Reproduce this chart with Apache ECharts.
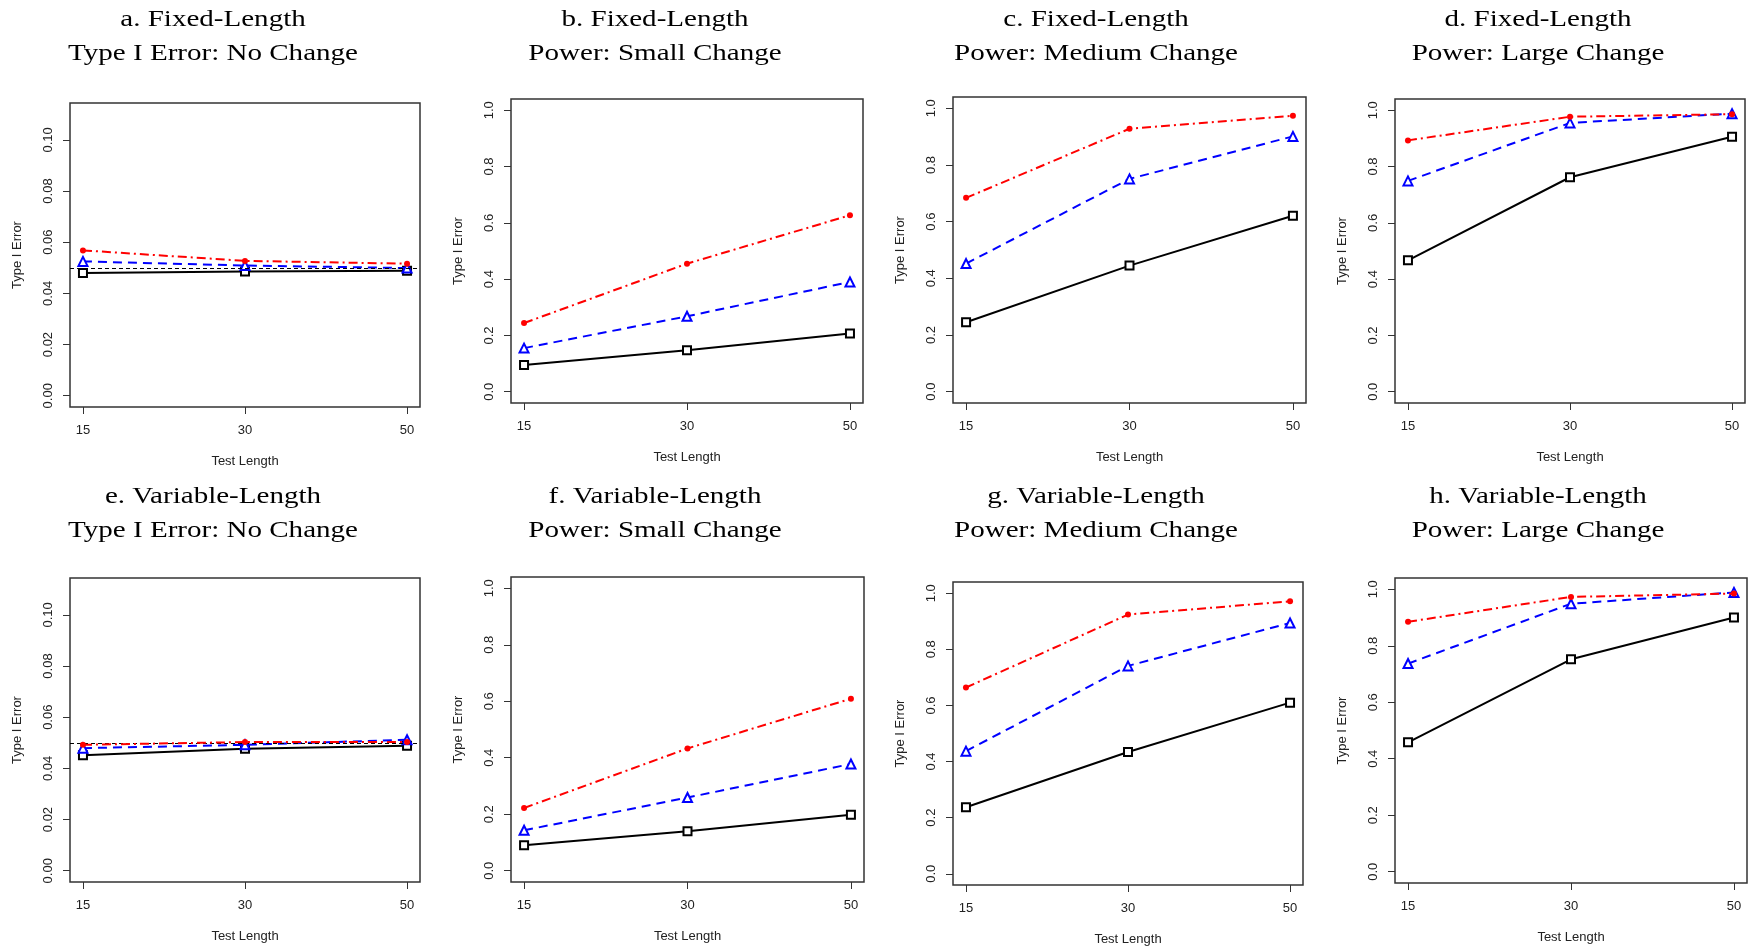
<!DOCTYPE html>
<html>
<head>
<meta charset="utf-8">
<script src="https://cdn.jsdelivr.net/npm/echarts@6/dist/echarts.min.js"></script>
<style>
html,body{margin:0;padding:0;background:#fff;}
#chart{width:1756px;height:949px;}
</style>
</head>
<body>
<div id="chart"></div>
<script>
// ---- categories & tick labels ----
const testLengths = ['15', '30', '50'];
const yTicksTypeI = [0, 0.02, 0.04, 0.06, 0.08, 0.10];
const yTicksPower = [0, 0.2, 0.4, 0.6, 0.8, 1.0];
const nominalAlpha = 0.05;

// ---- panel titles ----
const titleLine1 = ['a. Fixed-Length', 'b. Fixed-Length', 'c. Fixed-Length', 'd. Fixed-Length',
                    'e. Variable-Length', 'f. Variable-Length', 'g. Variable-Length', 'h. Variable-Length'];
const titleLine2 = ['Type I Error: No Change', 'Power: Small Change', 'Power: Medium Change', 'Power: Large Change',
                    'Type I Error: No Change', 'Power: Small Change', 'Power: Medium Change', 'Power: Large Change'];

// ---- series values (black solid squares, blue dashed triangles, red dot-dash dots) ----
const blackA = [0.0480, 0.0486, 0.0488];
const blueA  = [0.0525, 0.0509, 0.0499];
const redA   = [0.0568, 0.0527, 0.0516];

const blackB = [0.095, 0.147, 0.207];
const blueB  = [0.155, 0.268, 0.390];
const redB   = [0.244, 0.455, 0.627];

const blackC = [0.245, 0.445, 0.621];
const blueC  = [0.452, 0.751, 0.901];
const redC   = [0.684, 0.928, 0.974];

const blackD = [0.467, 0.762, 0.906];
const blueD  = [0.749, 0.955, 0.988];
const redD   = [0.893, 0.977, 0.986];

const blackE = [0.0451, 0.0477, 0.0488];
const blueE  = [0.0479, 0.0492, 0.0512];
const redE   = [0.0492, 0.0503, 0.0503];

const blackF = [0.090, 0.140, 0.198];
const blueF  = [0.143, 0.259, 0.378];
const redF   = [0.222, 0.433, 0.609];

const blackG = [0.237, 0.434, 0.610];
const blueG  = [0.437, 0.741, 0.894];
const redG   = [0.664, 0.924, 0.971];

const blackH = [0.458, 0.752, 0.900];
const blueH  = [0.737, 0.949, 0.989];
const redH   = [0.885, 0.973, 0.985];

const panels = [
  {black: blackA, blue: blueA, red: redA, typeI: true},
  {black: blackB, blue: blueB, red: redB, typeI: false},
  {black: blackC, blue: blueC, red: redC, typeI: false},
  {black: blackD, blue: blueD, red: redD, typeI: false},
  {black: blackE, blue: blueE, red: redE, typeI: true},
  {black: blackF, blue: blueF, red: redF, typeI: false},
  {black: blackG, blue: blueG, red: redG, typeI: false},
  {black: blackH, blue: blueH, red: redH, typeI: false}
];

// ---- layout (pixel boxes of each plot region) ----
const gridBoxes = [
  {left: 70,   top: 103, width: 350, height: 304},
  {left: 511,  top: 99,  width: 352, height: 304},
  {left: 953,  top: 97,  width: 353, height: 306},
  {left: 1395, top: 99,  width: 350, height: 304},
  {left: 70,   top: 578, width: 350, height: 304},
  {left: 511,  top: 577, width: 353, height: 305},
  {left: 953,  top: 582, width: 350, height: 303},
  {left: 1395, top: 578, width: 352, height: 305}
];
const titleCenters = [213, 655, 1096, 1538];
const titleRowY = [37, 514];

const axisFont = 'Liberation Sans';
const textColor = '#222';

const grids = [], xAxes = [], yAxes = [], series = [], graphics = [];

panels.forEach((p, i) => {
  const b = gridBoxes[i];
  grids.push({
    left: b.left, top: b.top, width: b.width, height: b.height,
    show: true, borderColor: '#333', borderWidth: 1.5, backgroundColor: '#fff'
  });
  xAxes.push({
    gridIndex: i, type: 'value', min: 0.92, max: 3.08, position: 'bottom',
    name: 'Test Length', nameLocation: 'middle', nameGap: 48,
    nameTextStyle: {fontFamily: axisFont, fontSize: 13, color: textColor},
    axisLine: {show: false, onZero: false},
    splitLine: {show: false},
    axisTick: {show: true, customValues: [1, 2, 3], length: 7, lineStyle: {color: '#333', width: 1}},
    axisLabel: {
      show: true, customValues: [1, 2, 3], margin: 17,
      fontFamily: axisFont, fontSize: 13, color: textColor,
      formatter: v => testLengths[Math.round(v) - 1]
    }
  });
  const ticks = p.typeI ? yTicksTypeI : yTicksPower;
  const yMin = p.typeI ? -0.0044 : -0.04;
  const yMax = p.typeI ? 0.1144 : 1.04;
  yAxes.push({
    gridIndex: i, type: 'value', min: yMin, max: yMax, position: 'left',
    name: 'Type I Error', nameLocation: 'middle', nameGap: 46, nameRotate: 90,
    nameTextStyle: {fontFamily: axisFont, fontSize: 13, color: textColor},
    axisLine: {show: false, onZero: false},
    splitLine: {show: false},
    axisTick: {show: true, customValues: ticks, length: 7, lineStyle: {color: '#333', width: 1}},
    axisLabel: {
      show: true, customValues: ticks, margin: 15, rotate: 90,
      fontFamily: axisFont, fontSize: 13, color: textColor,
      formatter: v => p.typeI ? v.toFixed(2) : v.toFixed(1)
    }
  });
  const toPts = arr => arr.map((v, k) => [k + 1, v]);
  const blackSeries = {
    name: 'Black (solid)', type: 'line', xAxisIndex: i, yAxisIndex: i,
    data: toPts(p.black),
    symbol: 'emptyRect', symbolSize: 8,
    lineStyle: {color: '#000', width: 2, type: 'solid'},
    itemStyle: {color: '#000', borderWidth: 1.8},
    silent: true, animation: false, z: 3
  };
  if (p.typeI) {
    blackSeries.markLine = {
      silent: true, symbol: ['none', 'none'], label: {show: false},
      lineStyle: {color: '#000', width: 1, type: [4, 3]},
      data: [{yAxis: nominalAlpha}],
      animation: false
    };
  }
  series.push(blackSeries);
  series.push({
    name: 'Blue (dashed)', type: 'line', xAxisIndex: i, yAxisIndex: i,
    data: toPts(p.blue),
    symbol: 'emptyTriangle', symbolSize: 9,
    lineStyle: {color: '#0000FF', width: 2, type: [9, 6]},
    itemStyle: {color: '#0000FF', borderWidth: 1.8},
    silent: true, animation: false, z: 4
  });
  series.push({
    name: 'Red (dot-dash)', type: 'line', xAxisIndex: i, yAxisIndex: i,
    data: toPts(p.red),
    symbol: 'circle', symbolSize: 6,
    lineStyle: {color: '#FF0000', width: 2, type: [9, 4, 2, 4]},
    itemStyle: {color: '#FF0000'},
    silent: true, animation: false, z: 5
  });
  graphics.push({
    type: 'text',
    x: titleCenters[i % 4], y: titleRowY[Math.floor(i / 4)],
    scaleX: 1.21, scaleY: 1,
    silent: true,
    style: {
      x: 0, y: 0,
      text: titleLine1[i] + '\n' + titleLine2[i],
      font: '24px "Liberation Serif", "Times New Roman", serif',
      lineHeight: 34,
      fill: '#000',
      align: 'center', verticalAlign: 'middle'
    }
  });
});

const chart = echarts.init(document.getElementById('chart'), null, {renderer: 'canvas'});
chart.setOption({
  animation: false,
  backgroundColor: '#fff',
  grid: grids,
  xAxis: xAxes,
  yAxis: yAxes,
  series: series,
  graphic: graphics
});
</script>
</body>
</html>
